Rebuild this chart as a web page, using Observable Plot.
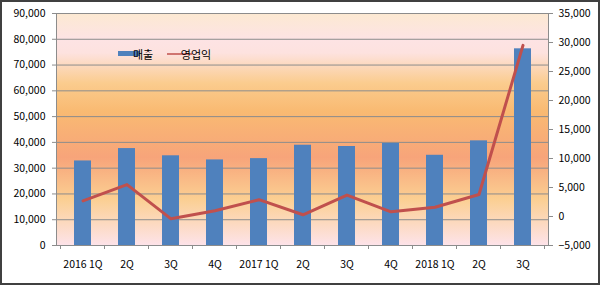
<!DOCTYPE html>
<html>
<head>
<meta charset="utf-8">
<script src="https://cdn.jsdelivr.net/npm/d3@7"></script>
<script src="https://cdn.jsdelivr.net/npm/@observablehq/plot@0.6"></script>
<style>
  body { margin: 0; background: #fff; }
  #chart { width: 600px; height: 285px; }
</style>
</head>
<body>
<div id="chart"></div>
<script>
// Quarterly sales (left axis) and operating profit (right axis)
const quarters = ["2016 1Q", "2Q", "3Q", "4Q", "2017 1Q", "2Q", "3Q", "4Q", "2018 1Q", "2Q", "3Q"];
const sales = [32800, 37600, 34800, 33200, 33700, 38900, 38400, 39600, 35000, 40600, 76300];
const profit = [2700, 5500, -400, 1000, 2900, 300, 3700, 800, 1600, 3800, 29500];
const salesTicks = [0, 10000, 20000, 30000, 40000, 50000, 60000, 70000, 80000, 90000];
const profitTicks = [-5000, 0, 5000, 10000, 15000, 20000, 25000, 30000, 35000];
const seriesNames = ["매출", "영업익"];

const salesDomain = [0, 90000];
const profitDomain = [-5000, 35000];

// The profit series shares the y scale: map its domain onto the sales domain
const profitToY = v => salesDomain[0] + (v - profitDomain[0]) * (salesDomain[1] - salesDomain[0]) / (profitDomain[1] - profitDomain[0]);
const yToProfit = y => Math.round(profitDomain[0] + (y - salesDomain[0]) * (profitDomain[1] - profitDomain[0]) / (salesDomain[1] - salesDomain[0]));

const idx = quarters.map((_, i) => i);
const rows = idx.map(i => ({i, sales: sales[i], profit: profit[i]}));
const fmt = d3.format(",");
const gridColor = "#8c8c8c";

const plot = Plot.plot({
  width: 600,
  height: 285,
  marginLeft: 56,
  marginRight: 52,
  marginTop: 13,
  marginBottom: 40,
  style: {fontFamily: "'Noto Sans CJK KR', sans-serif", fontSize: "10.5px", color: "#000", background: "transparent", overflow: "visible"},
  x: {domain: idx, paddingInner: 0.62, paddingOuter: 0.31, label: null},
  y: {domain: salesDomain, label: null},
  marks: [
    Plot.frame({fill: "url(#plotBg)"}),
    Plot.gridY(salesTicks, {stroke: gridColor, strokeOpacity: 1}),
    Plot.barY(rows, {x: "i", y: "sales", fill: "#4f81bd"}),
    Plot.line(rows, {x: "i", y: d => profitToY(d.profit), stroke: "#c0504d", strokeWidth: 3, strokeLinejoin: "round"}),
    Plot.frame({stroke: gridColor}),
    Plot.axisY(salesTicks, {anchor: "left", tickSize: 4, tickPadding: 7, tickFormat: fmt, stroke: gridColor}),
    Plot.axisY(profitTicks.map(profitToY), {anchor: "right", tickSize: 4, tickPadding: 6, tickFormat: d => fmt(yToProfit(d)), stroke: gridColor}),
    Plot.axisX({tickSize: 0, tickPadding: 15, tickFormat: i => quarters[i]})
  ]
});

const svg = d3.select(plot);

// Background gradient of the plotting area
const grad = svg.insert("defs", ":first-child")
  .append("linearGradient")
  .attr("id", "plotBg")
  .attr("x1", 0).attr("y1", 0).attr("x2", 0).attr("y2", 1);
[
  [0.00, "#fce9d2"],
  [0.11, "#fde3e4"],
  [0.17, "#fde2df"],
  [0.30, "#fbcc8e"],
  [0.42, "#f9ba72"],
  [0.62, "#f7a47a"],
  [0.80, "#fbcf92"],
  [1.00, "#fde3ea"]
].forEach(([o, c]) => grad.append("stop").attr("offset", o).attr("stop-color", c));

// Category separator ticks below the x axis, placed by the band scale
const xs = plot.scale("x");
const ys = plot.scale("y");
const step = xs.apply(1) - xs.apply(0);
const y0 = ys.apply(0);
const sep = svg.append("g").attr("stroke", gridColor);
for (let k = 0; k <= quarters.length; k++) {
  const xb = xs.apply(0) + xs.bandwidth / 2 - step / 2 + k * step;
  sep.append("line").attr("x1", xb).attr("x2", xb).attr("y1", y0).attr("y2", y0 + 4);
}

// Legend
const lg = svg.append("g").attr("font-size", "11px").attr("fill", "#000");
lg.append("rect").attr("x", 118).attr("y", 51).attr("width", 22).attr("height", 5).attr("fill", "#4f81bd");
lg.append("text").attr("x", 143).attr("y", 59).text(seriesNames[0]);
lg.append("line").attr("x1", 167).attr("x2", 192).attr("y1", 54).attr("y2", 54).attr("stroke", "#c0504d").attr("stroke-width", 1.5);
lg.append("text").attr("x", 196).attr("y", 59).text(seriesNames[1]);

// Chart border
svg.append("rect").attr("x", 1).attr("y", 1).attr("width", 598).attr("height", 283)
  .attr("fill", "none").attr("stroke", "#404040").attr("stroke-width", 2);

document.getElementById("chart").appendChild(plot);
</script>
</body>
</html>
